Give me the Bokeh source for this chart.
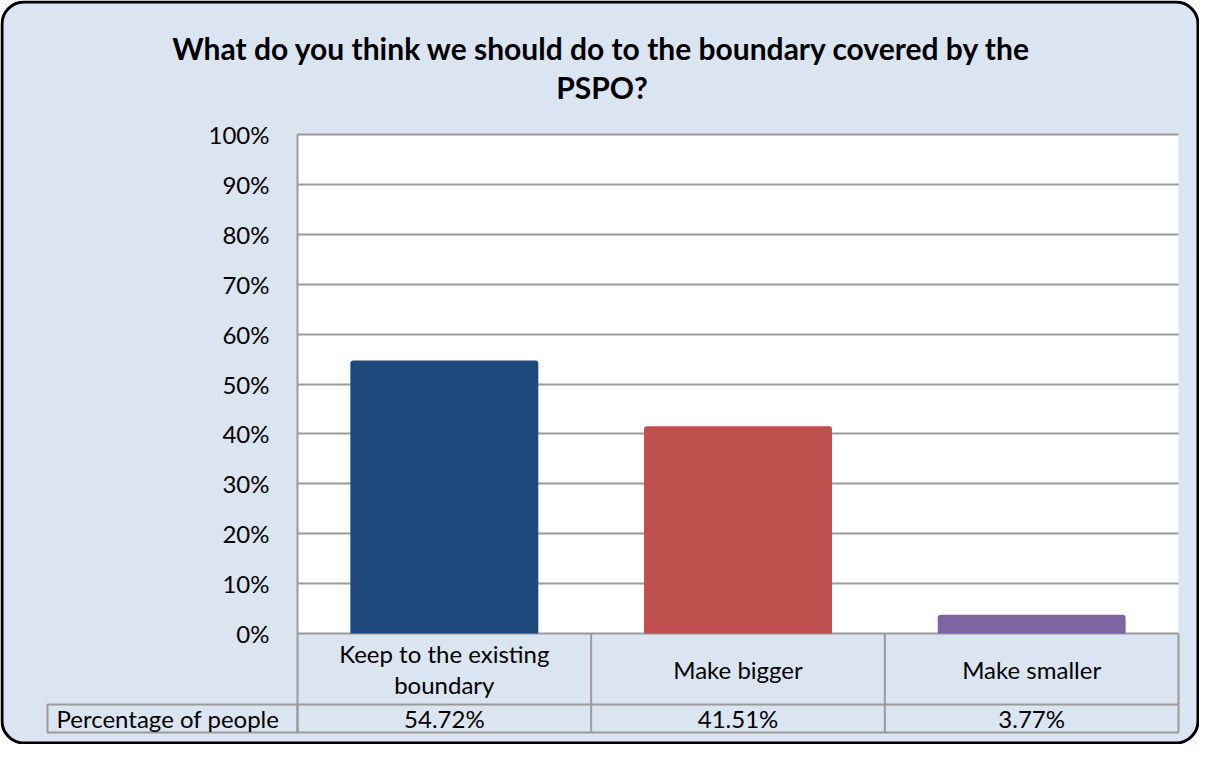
import math
from bokeh.plotting import figure
from bokeh.models import (Range1d, FixedTicker, PrintfTickFormatter, BoxAnnotation,
                          Label, ColumnDataSource)
from bokeh.core.properties import value
from bokeh.embed import file_html
from bokeh.resources import INLINE

# ---- data ----
title_lines = ["What do you think we should do to the boundary covered by the", "PSPO?"]
categories = ["Keep to the existing boundary", "Make bigger", "Make smaller"]
category_labels = ["Keep to the existing\nboundary", "Make bigger", "Make smaller"]
percentages = [54.72, 41.51, 3.77]
bar_colors = ["#1F497D", "#C0504D", "#8064A2"]
series_name = "Percentage of people"
y_ticks = [0, 10, 20, 30, 40, 50, 60, 70, 80, 90, 100]

# ---- layout (canvas pixels) ----
W, H = 1199, 744
FL, FR = 297, 1178          # plot area left / right
PT, P0, R1, TB = 134, 633, 704, 732   # plot top, 0% line, table row split, table bottom
px = (P0 - PT) / 100.0
xpx = (FR - FL) / 3.0


def xd(cx):  # canvas x pixel -> data x
    return (cx - FL) / xpx


def yd(cy):  # canvas y pixel -> data y
    return (P0 - cy) / px


row_split = yd(R1)
tbl_bottom = yd(TB)

FONT = "Lato"
GRID = "#9A9A9A"
BG = "#DBE5F1"
FS = "24px"

p = figure(width=W, height=H, title=None,
           x_range=Range1d(xd(0), xd(W)), y_range=Range1d(yd(H), yd(0)),
           output_backend="svg", toolbar_location=None, x_axis_location=None,
           min_border=0, min_border_left=0, min_border_right=0,
           min_border_top=0, min_border_bottom=0,
           border_fill_color="white", background_fill_color="white", outline_line_color=None)

# chart background with rounded black border
E, R = 1.5, 22
outer = BoxAnnotation(left=xd(E), right=xd(W - E), top=yd(E), bottom=yd(H - E),
                      fill_color=BG, fill_alpha=1, line_color="black", line_alpha=1,
                      line_width=3, border_radius=R, level="image")
p.add_layout(outer)
# white plot area
plot_area = BoxAnnotation(left=0, right=3, bottom=0, top=100, fill_color="white",
                          fill_alpha=1, line_color=None, level="image")
p.add_layout(plot_area)

# y axis, pinned to the plot area's left edge
yax = p.yaxis[0]
yax.fixed_location = 0
yax.ticker = FixedTicker(ticks=y_ticks)
yax.formatter = PrintfTickFormatter(format="%d%%")
yax.major_tick_line_color = None
yax.minor_tick_line_color = None
yax.axis_line_color = GRID
yax.axis_line_width = 2
yax.bounds = (tbl_bottom, 100)
yax.major_label_text_font = FONT
yax.major_label_text_font_size = FS
yax.major_label_text_color = "black"
yax.major_label_standoff = 22

p.ygrid.ticker = FixedTicker(ticks=y_ticks)
p.ygrid.grid_line_color = GRID
p.ygrid.grid_line_width = 2
p.ygrid.cross_bounds = (0, 3)
p.xgrid.visible = False

# bars
xs = [i + 0.5 for i in range(len(categories))]
src = ColumnDataSource(dict(x=xs, top=percentages, color=bar_colors, cat=categories,
                            lab=category_labels,
                            val=["%.2f%%" % v for v in percentages]))
p.vbar(x="x", top="top", bottom=0, width=0.64, fill_color="color", line_color=None,
       border_radius=(3, 3, 0, 0), source=src)

# data table lines
p.segment(x0=[0, 0], x1=[3, 3], y0=[row_split, tbl_bottom], y1=[row_split, tbl_bottom],
          line_color=GRID, line_width=2)
p.segment(x0=[1, 2, 3], x1=[1, 2, 3], y0=[tbl_bottom] * 3, y1=[0] * 3,
          line_color=GRID, line_width=2)

# table texts
p.text(x="x", y=row_split / 2, text="lab", source=src, text_align="center",
       text_baseline="middle", text_font=value(FONT), text_font_size=FS,
       text_line_height=1.05, text_color="black")
p.text(x="x", y=(row_split + tbl_bottom) / 2, text="val", source=src, text_align="center",
       text_baseline="middle", text_font=value(FONT), text_font_size=FS,
       text_color="black")

# left header cell of the table
cell = BoxAnnotation(left=xd(FL - 250), right=0, top=row_split, bottom=tbl_bottom,
                     fill_alpha=0, line_color=GRID, line_alpha=1, line_width=2)
p.add_layout(cell)
p.add_layout(Label(x=xd(FL - 241), y=(row_split + tbl_bottom) / 2,
                   text=series_name, text_baseline="middle", text_font=FONT,
                   text_font_size=FS, text_color="black"))

# title
for line, cy in zip(title_lines, [47, 86]):
    p.add_layout(Label(x=xd(W / 2 + 2), y=yd(cy), text=line,
                       text_align="center", text_baseline="middle", text_font=FONT,
                       text_font_size="30px", text_font_style="bold", text_color="black"))

open("out.html", "w").write(file_html(p, INLINE))
